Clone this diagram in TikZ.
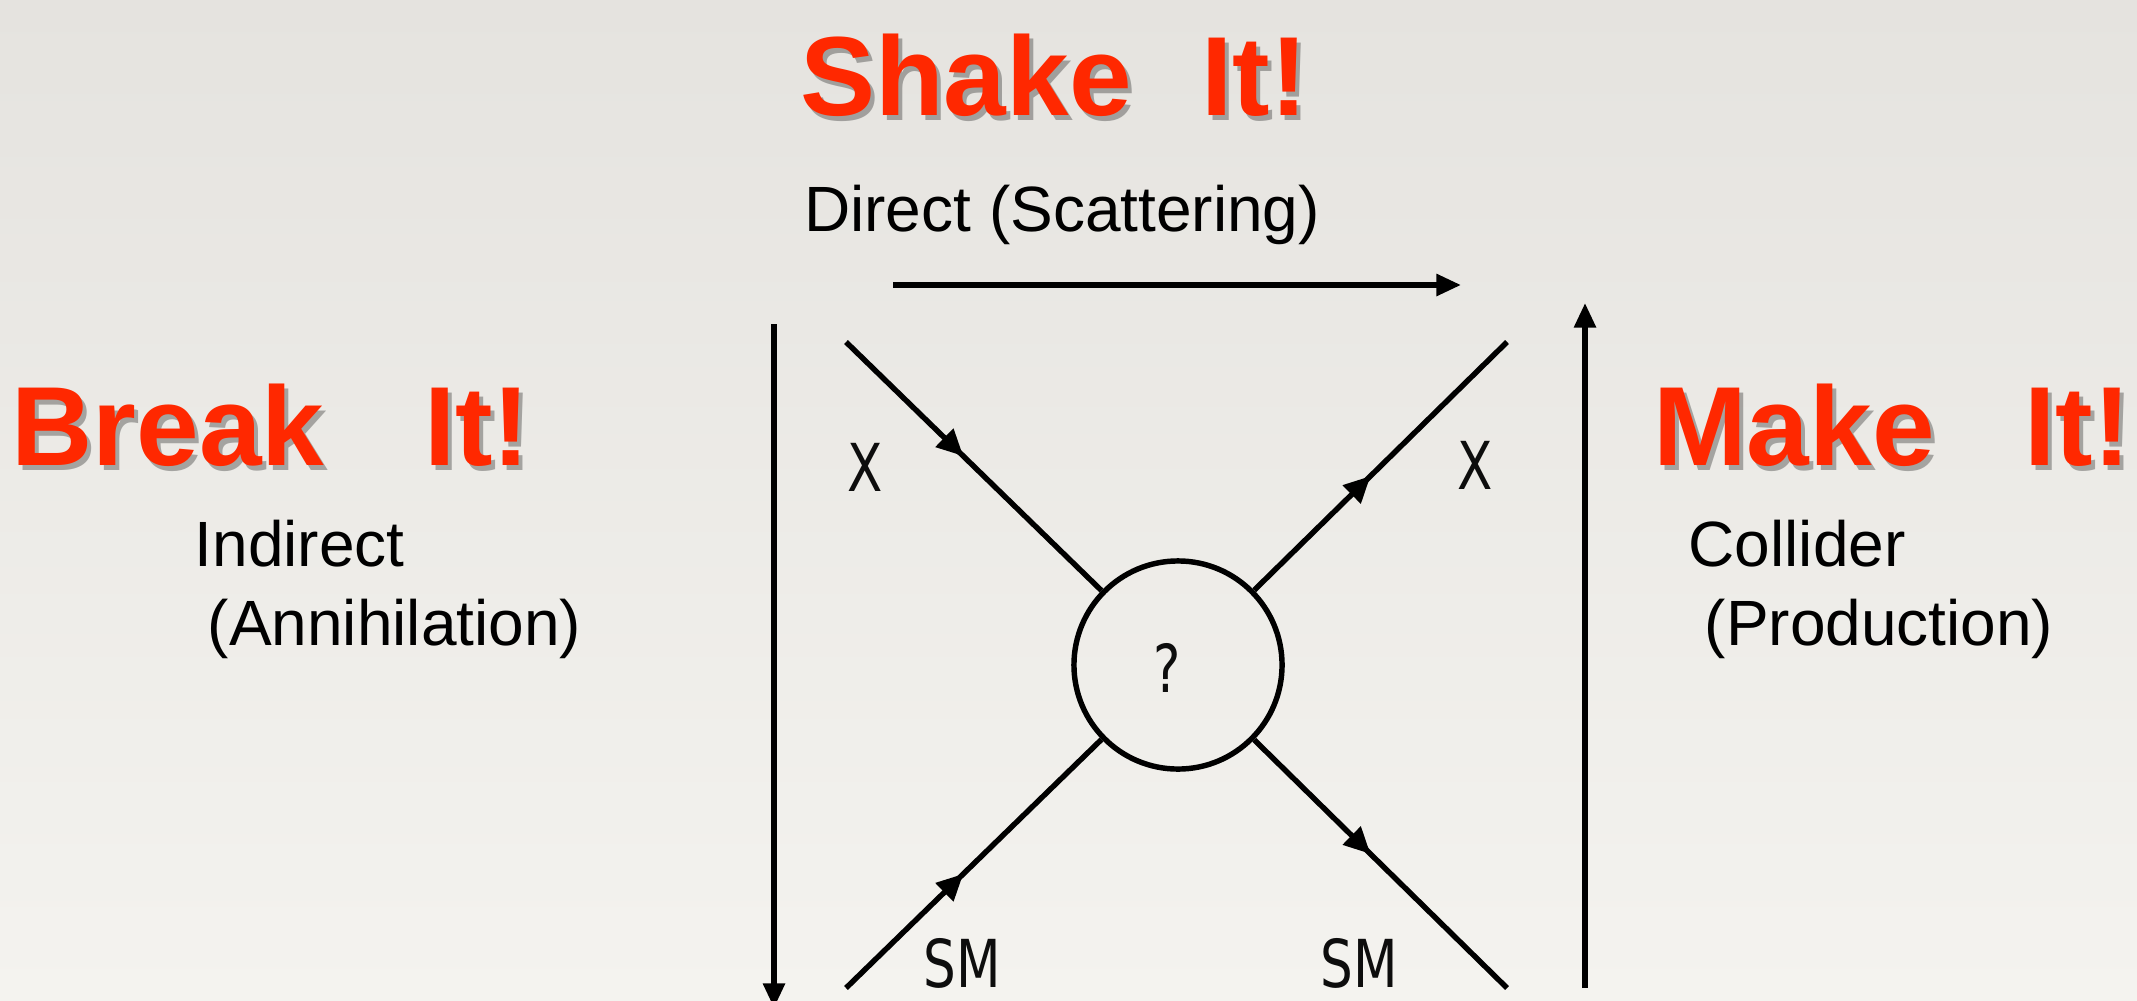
\documentclass[tikz,border=0pt]{standalone}
\usepackage{fontspec}
\setmainfont{Liberation Sans}
\newfontfamily\diagfont[FakeStretch=0.78]{DejaVu Sans}
\usepackage{xcolor}
\usepackage{tikz}
\usetikzlibrary{arrows.meta,decorations.markings}
\definecolor{titlered}{RGB}{255,40,0}
\definecolor{papertop}{RGB}{229,227,223}
\definecolor{paperbot}{RGB}{244,243,239}

\begin{document}
\begin{tikzpicture}[x=0.01cm,y=-0.01cm,
    bigword/.style={font=\bfseries\fontsize{32}{36}\selectfont,text=titlered,inner sep=0pt},
    wordshadow/.style={font=\bfseries\fontsize{32}{36}\selectfont,text=black,opacity=0.3,inner sep=0pt},
    captext/.style={font=\fontsize{18.2}{22.5}\selectfont,align=left,inner sep=0pt},
    particle/.style={font=\diagfont\fontsize{18.8}{22}\selectfont,text=black!95,inner sep=0pt},
    flow/.style={line width=1.55pt,-{Triangle[length=7pt,width=6pt]}},
    leg/.style={line width=1.55pt,postaction={decorate},
      decoration={markings,mark=at position 0.46 with {\arrow{Triangle[length=7.5pt,width=7pt]}}}},
    blob/.style={draw,circle,line width=1.55pt,minimum size=2.08cm,inner sep=0pt}]
  % papier
  \shade[top color=papertop,bottom color=paperbot] (0,0) rectangle (2137,1000);
  \useasboundingbox (0,0) rectangle (2137,1000);
  % titres
  \node[wordshadow] (shakeshadow) at (1058,80) {Shake\hspace{0.7cm}It!};
  \node[bigword] (shake) at (1054,75) {Shake\hspace{0.7cm}It!};
  \node[wordshadow] (breakshadow) at (275,430) {Break\hspace{1cm}It!};
  \node[bigword] (break) at (271,425) {Break\hspace{1cm}It!};
  \node[wordshadow] (makeshadow) at (1896,430) {Make\hspace{0.9cm}It!};
  \node[bigword] (make) at (1892,425) {Make\hspace{0.9cm}It!};
  % sous-titres
  \node[captext] (direct) at (1062,215) {Direct (Scattering)};
  \node[captext,anchor=west] (indirect) at (194,589) {Indirect\\\hspace*{0.13cm}(Annihilation)};
  \node[captext,anchor=west] (collider) at (1688,589) {Collider\\\hspace*{0.16cm}(Production)};
  % fleches des trois voies
  \coordinate (scatA) at (893,285);
  \coordinate (scatB) at (1461,285);
  \draw[flow] (scatA) -- (scatB);
  \coordinate (annA) at (774,324);
  \coordinate (annB) at (774,1008);
  \draw[flow] (annA) -- (annB);
  \coordinate (prodA) at (1585,988);
  \coordinate (prodB) at (1585,303);
  \draw[flow] (prodA) -- (prodB);
  % vertex
  \node[blob] (blob) at (1178,665) {};
  \node[particle] (qmark) at (1167,668) {?};
  \coordinate (xin) at (846,342);
  \coordinate (xout) at (1507,342);
  \coordinate (smin) at (846,988);
  \coordinate (smout) at (1507,988);
  \draw[leg] (xin) -- (blob);
  \draw[leg] (blob) -- (xout);
  \draw[leg] (smin) -- (blob);
  \draw[leg] (blob) -- (smout);
  \node[particle] (xa) at (865,467) {X};
  \node[particle] (xb) at (1475,465) {X};
  \node[particle] (sma) at (962,963) {SM};
  \node[particle] (smb) at (1359,963) {SM};
\end{tikzpicture}
\end{document}
